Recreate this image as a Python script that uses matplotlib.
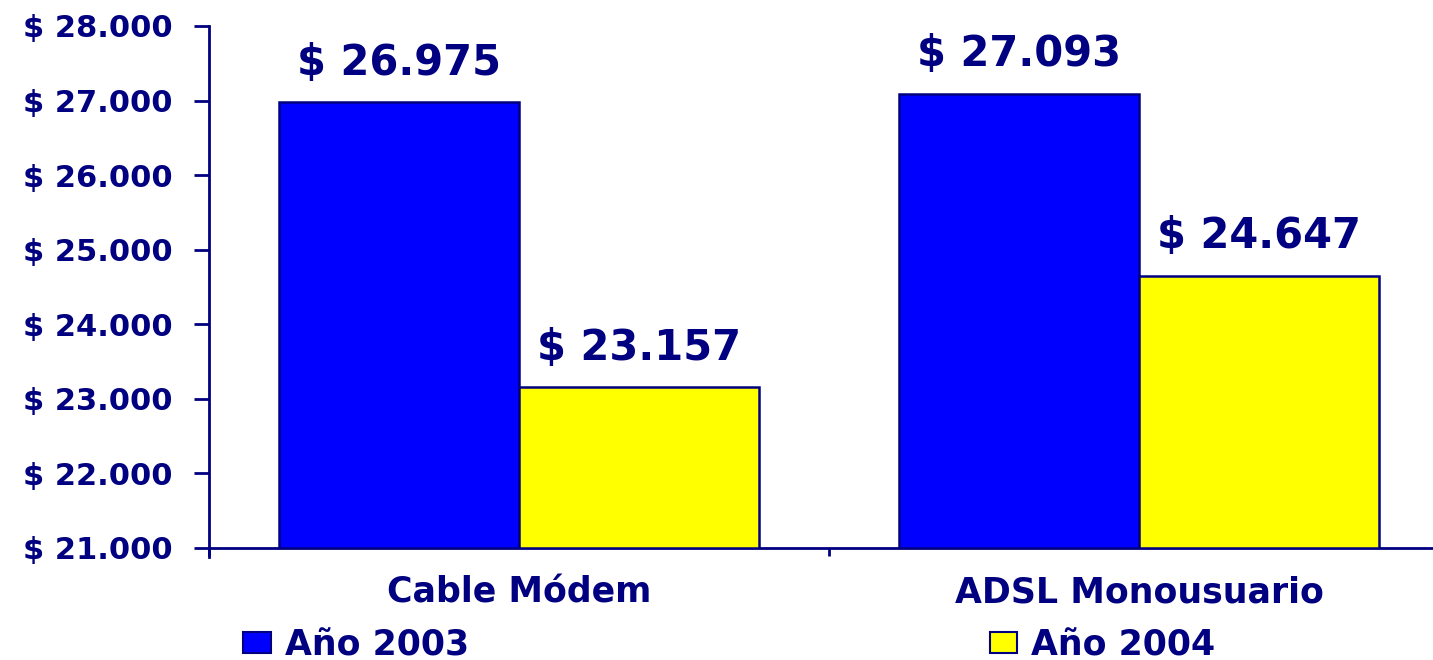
import matplotlib
matplotlib.use("Agg")
import matplotlib.pyplot as plt
from matplotlib.ticker import FuncFormatter, FixedLocator
from matplotlib.patches import Patch

categories = ["Cable Módem", "ADSL Monousuario"]
series_names = ["Año 2003", "Año 2004"]
values_2003 = [26975, 27093]
values_2004 = [23157, 24647]
y_ticks = [21000, 22000, 23000, 24000, 25000, 26000, 27000, 28000]

NAVY = "#000080"
colors = ["#0000FF", "#FFFF00"]

def money(v):
    return "$ " + f"{int(round(v)):,}".replace(",", ".")

plt.rcParams['font.family'] = ['DejaVu Sans']
plt.rcParams['font.weight'] = 'bold'

fig = plt.figure(figsize=(14.33, 6.6), dpi=100)
ax = fig.add_axes([209/1433, 1-548/660, 1240/1433, 522/660])

x = list(range(len(categories)))
w = 0.387
for i, (vals, name) in enumerate([(values_2003, series_names[0]), (values_2004, series_names[1])]):
    xs = [xi - w/2 + i*w for xi in x]
    ax.bar(xs, [v - y_ticks[0] for v in vals], bottom=y_ticks[0], width=w,
           color=colors[i], edgecolor=NAVY, linewidth=1.8, zorder=3)
    for xx, v in zip(xs, vals):
        ax.text(xx, v + 250, money(v), ha="center", va="bottom",
                fontsize=30, fontweight="bold", color=NAVY)

ax.set_xlim(-0.5, 1.5)
ax.set_ylim(y_ticks[0], y_ticks[-1])
ax.set_yticks(y_ticks)
ax.yaxis.set_major_formatter(FuncFormatter(lambda v, p: money(v)))
ax.set_xticks(x)
ax.set_xticklabels(categories)
ax.xaxis.set_minor_locator(FixedLocator([-0.5, 0.5, 1.5]))

for s in ["top", "right"]:
    ax.spines[s].set_visible(False)
for s in ["left", "bottom"]:
    ax.spines[s].set_color(NAVY)
    ax.spines[s].set_linewidth(2)
ax.spines["left"].set_bounds(y_ticks[0] - 120, y_ticks[-1])

ax.tick_params(axis="y", direction="out", length=11, width=2, color=NAVY,
               labelcolor=NAVY, labelsize=22, pad=15)
ax.tick_params(axis="x", which="major", length=0, labelcolor=NAVY,
               labelsize=25, pad=20)
ax.tick_params(axis="x", which="minor", direction="out", length=6, width=2, color=NAVY)
for lab in ax.get_xticklabels() + ax.get_yticklabels():
    lab.set_fontweight("bold")

handles = [Patch(facecolor=colors[0], edgecolor=NAVY, linewidth=1.5),
           Patch(facecolor=colors[1], edgecolor=NAVY, linewidth=1.5)]
leg = fig.legend(handles, series_names, loc="center left", ncol=2,
                 bbox_to_anchor=(243/1433, 1-645/660), frameon=False,
                 prop={"size": 25, "weight": "bold"}, handlelength=0.8,
                 handleheight=0.55, handletextpad=0.4, columnspacing=15.0,
                 borderaxespad=0, borderpad=0)
for t in leg.get_texts():
    t.set_color(NAVY)

fig.savefig("out.png", dpi=100)
